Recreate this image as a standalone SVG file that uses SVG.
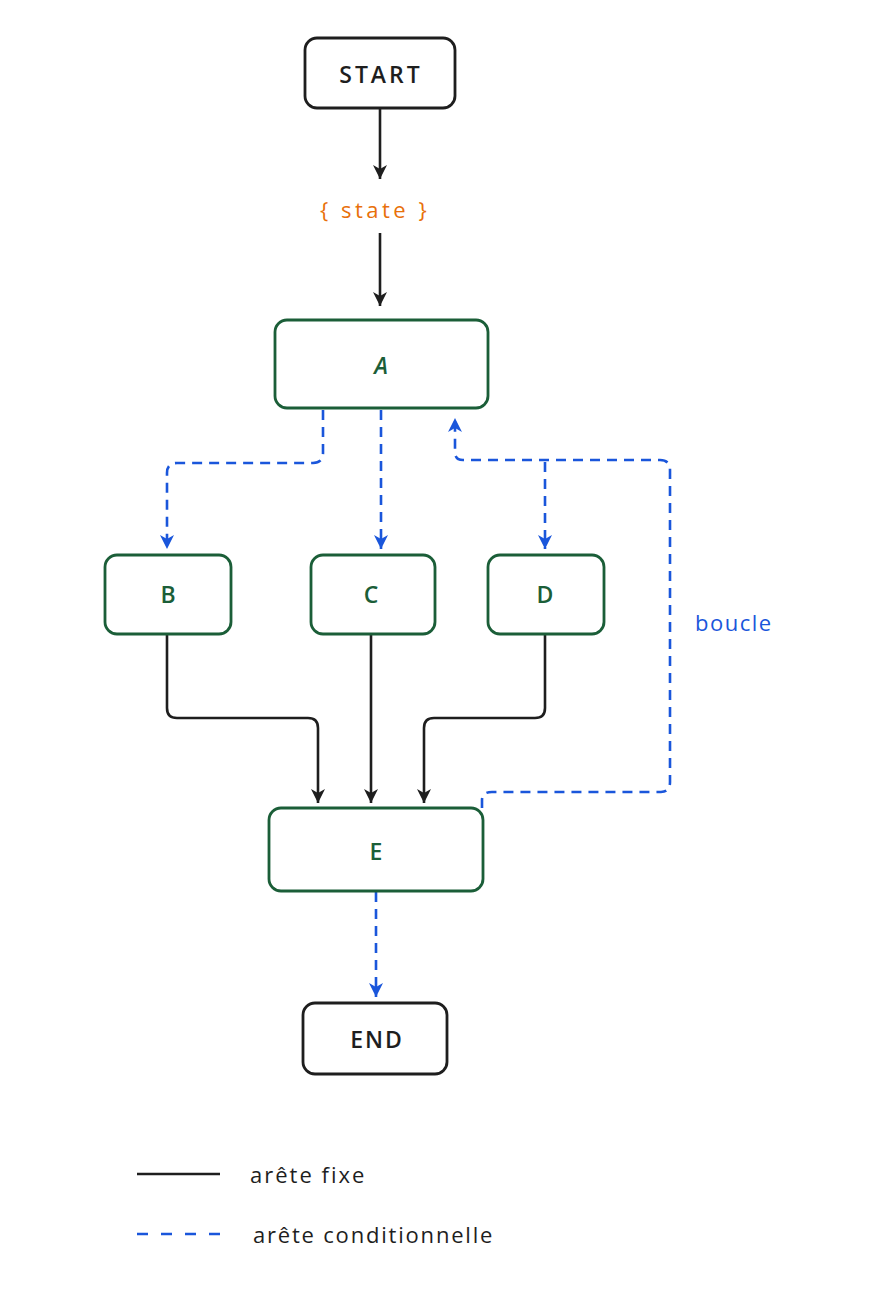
<svg xmlns="http://www.w3.org/2000/svg" width="885" height="1295" viewBox="0 0 885 1295">
<defs>
<style>
.term{fill:#fff;stroke:#1e1e1e;stroke-width:2.8}
.node{fill:#fff;stroke:#1b5e38;stroke-width:2.8}
.tt{font-family:"Open Sans","Liberation Sans",sans-serif;font-size:23px;font-weight:600;text-anchor:middle;dominant-baseline:central}
.tb{fill:#1e1e1e}
.tg{fill:#1b5e38}
.lab{font-family:"Open Sans","Liberation Sans",sans-serif;font-size:22px;font-weight:500;dominant-baseline:central}
.solid{fill:none;stroke:#1e1e1e;stroke-width:2.6}
.dash{fill:none;stroke:#1a56db;stroke-width:2.6;stroke-dasharray:10 7}
</style>
<marker id="ab" viewBox="0 0 14 16" refX="14" refY="8" markerWidth="14" markerHeight="16" markerUnits="userSpaceOnUse" orient="auto"><path d="M0,1 L14,8 L0,15 L4,8 Z" fill="#1e1e1e"/></marker>
<marker id="au" viewBox="0 0 14 16" refX="14" refY="8" markerWidth="14" markerHeight="16" markerUnits="userSpaceOnUse" orient="auto"><path d="M0,1 L14,8 L0,15 L4,8 Z" fill="#1a56db"/></marker>
</defs>
<rect width="885" height="1295" fill="#fff"/>
<g id="connectors">
<path class="solid" d="M380,108 V179" marker-end="url(#ab)"/>
<path class="solid" d="M380,233 V306" marker-end="url(#ab)"/>
<path class="dash" d="M323,410 V453 Q323,463 313,463 H177 Q167,463 167,473 V549" marker-end="url(#au)"/>
<path class="dash" d="M381,410 V549" marker-end="url(#au)"/>
<path class="dash" d="M482,808 V800 Q482,792 492,792 H661 Q670,792 670,782 V470 Q670,460 660,460 H463 Q455,460 455,452 V418" marker-end="url(#au)"/>
<path class="dash" d="M545,462 V549" marker-end="url(#au)"/>
<path class="solid" d="M167,635 V708 Q167,718 177,718 H308 Q318,718 318,728 V803" marker-end="url(#ab)"/>
<path class="solid" d="M371,635 V803" marker-end="url(#ab)"/>
<path class="solid" d="M545,635 V708 Q545,718 535,718 H434 Q424,718 424,728 V803" marker-end="url(#ab)"/>
<path class="dash" d="M376,892 V997" marker-end="url(#au)"/>
<text class="lab" x="695" y="622" fill="#1a56db" letter-spacing="1.5">boucle</text>
</g>
<g id="start"><rect class="term" x="305" y="38" width="150" height="70" rx="12"/><text class="tt tb" x="381" y="74" letter-spacing="3">START</text></g>
<g id="state"><text class="lab" x="320" y="209" fill="#e8700a" letter-spacing="3.5">{ state }</text></g>
<g id="A"><rect class="node" x="275" y="320" width="213" height="88" rx="12"/><text class="tt tg" x="381" y="365" font-style="italic">A</text></g>
<g id="B"><rect class="node" x="105" y="555" width="126" height="79" rx="12"/><text class="tt tg" x="168" y="594">B</text></g>
<g id="C"><rect class="node" x="311" y="555" width="124" height="79" rx="12"/><text class="tt tg" x="371" y="594">C</text></g>
<g id="D"><rect class="node" x="488" y="555" width="116" height="79" rx="12"/><text class="tt tg" x="545" y="594">D</text></g>
<g id="E"><rect class="node" x="269" y="808" width="214" height="83" rx="12"/><text class="tt tg" x="376" y="851">E</text></g>
<g id="end"><rect class="term" x="303" y="1003" width="144" height="71" rx="12"/><text class="tt tb" x="377" y="1039" letter-spacing="2">END</text></g>
<g id="legend">
<line x1="137" y1="1174" x2="220" y2="1174" stroke="#1e1e1e" stroke-width="2.6"/>
<text class="lab" x="250" y="1174" fill="#1e1e1e" letter-spacing="2">arête fixe</text>
<line x1="137" y1="1234" x2="221" y2="1234" stroke="#1a56db" stroke-width="2.6" stroke-dasharray="11 13"/>
<text class="lab" x="253" y="1234" fill="#1e1e1e" letter-spacing="1.8">arête conditionnelle</text>
</g>
</svg>
